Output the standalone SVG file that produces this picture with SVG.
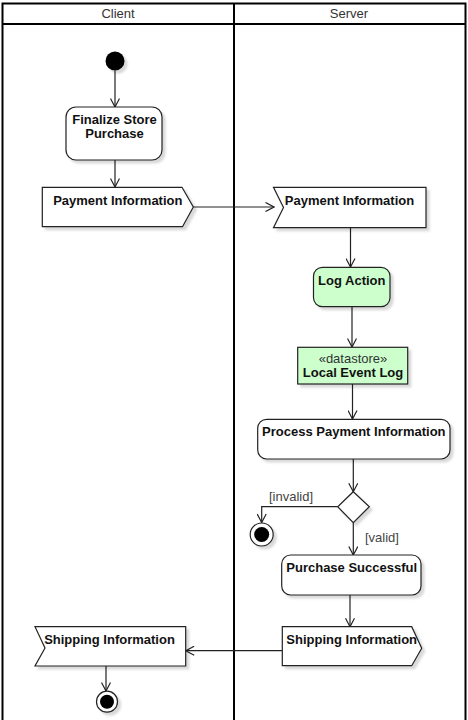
<svg xmlns="http://www.w3.org/2000/svg" width="468" height="720" viewBox="0 0 468 720">
<style>
.lane{fill:none;stroke:#000;stroke-width:2}
.hdr{font-family:"Liberation Sans",Arial,sans-serif;font-size:13px;fill:#333;text-anchor:middle}
.node{fill:#fff;stroke:#222;stroke-width:1.2}
.green{fill:#ccffcc}
.b{font-family:"Liberation Sans",Arial,sans-serif;font-size:13px;font-weight:bold;fill:#111;text-anchor:middle}
.n{font-family:"Liberation Sans",Arial,sans-serif;font-size:13px;fill:#333;text-anchor:middle}
.lbl{font-family:"Liberation Sans",Arial,sans-serif;font-size:13px;fill:#444}
.edge{fill:none;stroke:#222;stroke-width:1.2;marker-end:url(#open)}
.sh{filter:url(#shadow)}
</style>
<defs>
<filter id="shadow" x="-20%" y="-20%" width="150%" height="150%">
<feDropShadow dx="3" dy="3" stdDeviation="0.8" flood-color="#000" flood-opacity="0.15"/>
</filter>
<marker id="open" viewBox="0 0 10 10" refX="9.5" refY="5" markerWidth="10" markerHeight="10" markerUnits="userSpaceOnUse" orient="auto">
<path d="M1,0.5 L9.5,5 L1,9.5" fill="none" stroke="#222" stroke-width="1.2"/>
</marker>
</defs>
<rect width="468" height="720" fill="#fff"/>

<g id="pool">
<path class="lane" d="M2.5,730 V3.5 H465.5 V730"/>
<path class="lane" d="M2.5,24 H465.5"/>
<path class="lane" d="M234,3.5 V730"/>
</g>
<g id="lane-client"><text class="hdr" x="118" y="18">Client</text></g>
<g id="lane-server"><text class="hdr" x="349" y="18">Server</text></g>

<g id="connectors">
<path class="edge" d="M115,70.5 V107"/>
<path class="edge" d="M115,160 V187"/>
<path class="edge" d="M193.3,207 H274"/>
<path class="edge" d="M350.5,228 V267"/>
<path class="edge" d="M352,307 V347"/>
<path class="edge" d="M352.5,384 V419"/>
<path class="edge" d="M353.3,459 V491.7"/>
<path class="edge" d="M337.7,506.7 H261.7 V522.5"/>
<path class="edge" d="M353.3,522.7 V555"/>
<path class="edge" d="M350,595 V626.7"/>
<path class="edge" d="M282,650.7 H185.7"/>
<path class="edge" d="M106,666 V691"/>
<text class="lbl" x="269" y="501">[invalid]</text>
<text class="lbl" x="365" y="542">[valid]</text>
</g>

<g id="start"><circle class="sh" cx="115" cy="61" r="9.5" fill="#000"/></g>

<g id="finalize">
<rect class="node sh" x="66" y="107" width="96" height="53" rx="10"/>
<text class="b" x="114.5" y="123.5">Finalize Store</text>
<text class="b" x="114.5" y="137.5">Purchase</text>
</g>

<g id="payment-send">
<path class="node sh" d="M42.3,187.3 H182 L193.3,207 L182.5,226.7 H42.3 Z"/>
<text class="b" x="117.8" y="204.5">Payment Information</text>
</g>

<g id="payment-accept">
<path class="node sh" d="M273.5,187.3 H426 V227.7 H273.5 L283.5,207.5 Z"/>
<text class="b" x="349.5" y="204.5">Payment Information</text>
</g>

<g id="log-action">
<rect class="node green sh" x="313.5" y="267.3" width="76.5" height="39.4" rx="9"/>
<text class="b" x="351.8" y="284.5">Log Action</text>
</g>

<g id="datastore">
<rect class="node green sh" x="297.7" y="347.3" width="110" height="36.7"/>
<text class="n" x="353" y="362.5">«datastore»</text>
<text class="b" x="353" y="377.3">Local Event Log</text>
</g>

<g id="process">
<rect class="node sh" x="257.7" y="419.3" width="192.3" height="39.7" rx="9"/>
<text class="b" x="353.8" y="436.3">Process Payment Information</text>
</g>

<g id="decision">
<path class="node sh" d="M353.3,491.7 L369.3,506.7 L353.3,522.7 L337.7,506.7 Z"/>
</g>

<g id="final-invalid">
<circle class="node sh" cx="261.7" cy="534.5" r="11.5"/>
<circle cx="261.7" cy="534.5" r="7.5" fill="#000"/>
</g>

<g id="purchase-success">
<rect class="node sh" x="281.7" y="555" width="139.3" height="40" rx="9"/>
<text class="b" x="351.7" y="572">Purchase Successful</text>
</g>

<g id="shipping-send">
<path class="node sh" d="M282.3,626.7 H411.7 L421.7,648.3 L411.7,665.7 H282.3 Z"/>
<text class="b" x="351.7" y="644">Shipping Information</text>
</g>

<g id="shipping-accept">
<path class="node sh" d="M35,626.7 H185.7 V666 H35 L45,648 Z"/>
<text class="b" x="109.5" y="644">Shipping Information</text>
</g>

<g id="final-client">
<circle class="node sh" cx="107" cy="701.7" r="10.5"/>
<circle cx="107" cy="701.7" r="7" fill="#000"/>
</g>
</svg>
